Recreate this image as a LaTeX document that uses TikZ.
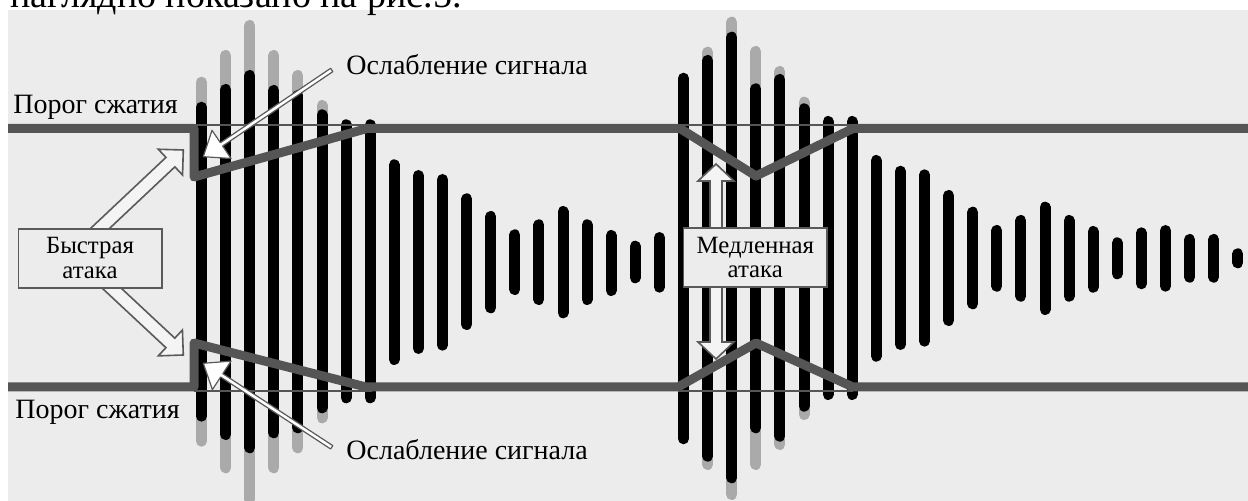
\documentclass[tikz,border=0pt]{standalone}
\usepackage{fontspec}
\setmainfont{Liberation Serif}
\usetikzlibrary{calc}
\definecolor{bg}{RGB}{236,236,236}
\definecolor{thr}{RGB}{85,85,85}
\definecolor{ghost}{RGB}{170,170,170}
\definecolor{edge}{RGB}{90,90,90}
\definecolor{afill}{RGB}{244,244,244}
% hollow arrow: [style]{tail}{tip}{half shaft}{half head}{head length}
\newcommand\harrow[6][]{%
  \coordinate (hN) at ($(#3)!#6!(#2)$);
  \filldraw[#1] ($(#2)!#4!90:(#3)$) -- ($(hN)!#4!-90:(#2)$) -- ($(hN)!#5!-90:(#2)$) -- (#3)
     -- ($(hN)!#5!90:(#2)$) -- ($(hN)!#4!90:(#2)$) -- ($(#2)!#4!-90:(#3)$) -- cycle;
}
\begin{document}
\begin{tikzpicture}[x=0.5pt,y=-0.5pt,
  barblack/.style={line width=5.5pt,line cap=round,black},
  barghost/.style={line width=5.5pt,line cap=round,ghost},
  thrline/.style={line width=4.5pt,thr,line join=round},
  thinthr/.style={line width=0.8pt,thr},
  bigarrow/.style={draw=edge,fill=afill,line width=0.8pt,line join=miter},
  smallarrow/.style={draw=edge,fill=white,line width=0.6pt,line join=round},
  labelbox/.style={draw=edge,fill=bg,line width=0.8pt,minimum width=71.7pt,minimum height=29.5pt,
     inner sep=0pt,align=center,font=\fontsize{12.4pt}{12.4pt}\selectfont},
  lbl/.style={anchor=base west,inner sep=0pt,font=\fontsize{14pt}{14pt}\selectfont}]
\useasboundingbox (0,0) rectangle (1248,501);
\clip (0,0) rectangle (1248,501);
\fill[white] (0,0) rectangle (1248,501);
\fill[bg] (8,10) rectangle (1248,501);
\node[anchor=base west,inner sep=0pt,font=\fontsize{19pt}{19pt}\selectfont] (pagetext) at (10,8) {наглядно показано на рис.5.};

% ghost (clipped) parts
\foreach \i/\t/\b in {0/76.7/446.7,1/50/473.3,2/20/505,3/50/473.3,4/70/453.3,5/100/423.3,
   21/46.7/470,22/16.7/500,23/46/470,24/66/450,25/96.7/420}
  \draw[barghost] ({201.5+24.1*\i},\t+5.5) -- ({201.5+24.1*\i},\b-5.5);
% signal bars
\foreach \i/\t/\b in {0/101.7/421.7,1/84/440,2/70/453.3,3/85/438.3,4/90/433.3,5/109.3/413.3,
   6/119.3/403.3,7/119.3/403.3,8/159.3/365,9/170/354,10/174/350.7,11/193.3/330,12/211/313.3,
   13/229.3/295,14/219.3/305,15/206/318.3,16/219.3/305,17/230/296,18/240.7/283.3,19/232/292.7,
   20/72.7/444.3,21/55/461.7,22/31.7/483.3,23/83.3/433.3,24/74/441.7,25/103.3/411.7,
   26/116/400,27/116/400,28/155/361.7,29/165.7/350,30/169.3/346.7,31/190/326,32/206.7/309.3,
   33/225/291.7,34/215/301.7,35/201.7/315,36/215/301.7,37/226/292.7,38/237.3/279.3,
   39/227.3/289.3,40/225/291.7,41/234/282.7,42/234/282.7,43/248.3/268.3}
  \draw[barblack] ({201.5+24.1*\i},\t+5.5) -- ({201.5+24.1*\i},\b-5.5);

% original threshold level (thin)
\draw[thinthr] (194,125) -- (372,125) (680,125) -- (853,125);
\draw[thinthr] (194,391) -- (372,391) (678,391) -- (853,391);
% threshold with gain reduction
\draw[thrline] (8,128.5) -- (194,128.5) -- (194,177) -- (367,128.5) -- (680,128.5)
   -- (756,176) -- (853,128.5) -- (1248,128.5);
\draw[thrline] (8,387) -- (194,387) -- (194,343) -- (366,387) -- (678,387)
   -- (756,343) -- (853,387) -- (1248,387);

% arrow end points
\coordinate (fastUpTail) at (92,236);
\coordinate (fastUpTip) at (183.3,150);
\coordinate (fastDnTail) at (104,281);
\coordinate (fastDnTip) at (183.3,355);
\coordinate (slowUpTail) at (716,245);
\coordinate (slowUpTip) at (716,164);
\coordinate (slowDnTail) at (716,272);
\coordinate (slowDnTip) at (716,359);
\coordinate (attUpTail) at (331.7,70);
\coordinate (attUpTip) at (203.3,156.7);
\coordinate (attDnTail) at (331.7,447.3);
\coordinate (attDnTip) at (203.3,363.3);

\harrow[bigarrow]{fastUpTail}{fastUpTip}{3.25pt}{8.85pt}{8.85pt}
\harrow[bigarrow]{fastDnTail}{fastDnTip}{3.25pt}{8.85pt}{8.85pt}
\harrow[bigarrow]{slowUpTail}{slowUpTip}{3pt}{9pt}{8.5pt}
\harrow[bigarrow]{slowDnTail}{slowDnTip}{3pt}{9pt}{8.5pt}
\harrow[smallarrow]{attUpTail}{attUpTip}{1pt}{8.5pt}{11pt}
\harrow[smallarrow]{attDnTail}{attDnTip}{1pt}{8.5pt}{11pt}

\node[labelbox] (fast) at (90,258.3) {Быстрая\\атака};
\node[labelbox] (slow) at (755.3,257.5) {Медленная\\атака};

\node[lbl] (thrTop) at (13,113.5) {Порог сжатия};
\node[lbl] (thrBot) at (15,419) {Порог сжатия};
\node[lbl] (attTop) at (346,74.5) {Ослабление сигнала};
\node[lbl] (attBot) at (346,460) {Ослабление сигнала};
\end{tikzpicture}
\end{document}
